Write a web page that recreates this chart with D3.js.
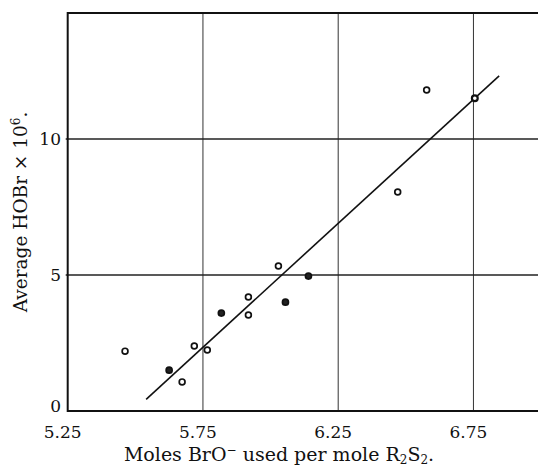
<!DOCTYPE html>
<html>
<head>
<meta charset="utf-8">
<script src="https://cdn.jsdelivr.net/npm/d3@7"></script>
<style>
  body { margin: 0; background: #fff; }
  svg { display: block; }
  text { font-family: "DejaVu Serif", serif; fill: #111; }
</style>
</head>
<body>
<div id="graph"></div>
<script>
// moles BrO- used per mole R2S2 (x) against average HOBr x 10^6 (y)
var molesBrO = [5.462, 5.625, 5.673, 5.718, 5.766, 5.818, 5.918, 5.918, 6.029, 6.055, 6.14, 6.47, 6.577, 6.755];
var avgHOBr  = [2.2, 1.5, 1.07, 2.39, 2.24, 3.6, 4.19, 3.53, 5.33, 4.0, 4.96, 8.05, 11.8, 11.5];
var solid    = [0, 1, 0, 0, 0, 1, 0, 0, 0, 1, 1, 0, 0, 0];

// ends of the drawn straight line
var fitX = [5.54, 6.845];
var fitY = [0.43, 12.32];

var xTicks = [5.25, 5.75, 6.25, 6.75];
var yTicks = [0, 5, 10];

window.onload = start;

function start() {
    var width = 538;
    var height = 467;

    var svg = d3.select("#graph")
        .append("svg")
        .attr("width", width)
        .attr("height", height);

    // plot box (right side is cut off by the picture edge)
    var left = 67.7, top = 13, bottom = 411;

    var x = d3.scaleLinear()
        .domain([5.25, 6.25])
        .range([left, left + 270.5]);

    var y = d3.scaleLinear()
        .domain([0, 10])
        .range([bottom, bottom - 272]);

    var g = svg.append("g");

    // grid lines
    g.selectAll("line.vgrid")
        .data(xTicks.slice(1))
        .enter()
        .append("line")
        .attr("x1", d => x(d))
        .attr("x2", d => x(d))
        .attr("y1", top)
        .attr("y2", bottom)
        .attr("stroke", "#333")
        .attr("stroke-width", 1);

    g.selectAll("line.hgrid")
        .data(yTicks.slice(1))
        .enter()
        .append("line")
        .attr("x1", left - 2)
        .attr("x2", width)
        .attr("y1", d => y(d))
        .attr("y2", d => y(d))
        .attr("stroke", "#222")
        .attr("stroke-width", 1.3);

    // frame
    g.append("line").attr("x1", left).attr("x2", width).attr("y1", top).attr("y2", top)
        .attr("stroke", "#111").attr("stroke-width", 2);
    g.append("line").attr("x1", left).attr("x2", width).attr("y1", bottom).attr("y2", bottom)
        .attr("stroke", "#111").attr("stroke-width", 2);
    g.append("line").attr("x1", left).attr("x2", left).attr("y1", top - 1).attr("y2", bottom + 1)
        .attr("stroke", "#111").attr("stroke-width", 2);

    // tick labels
    g.selectAll("text.xt")
        .data(xTicks)
        .enter()
        .append("text")
        .attr("x", d => x(d) - 5)
        .attr("y", 438)
        .attr("text-anchor", "middle")
        .attr("font-size", 17)
        .text(d => d3.format(".2f")(d));

    g.selectAll("text.yt")
        .data(yTicks)
        .enter()
        .append("text")
        .attr("x", 61)
        .attr("y", d => y(d) + (d === 0 ? 1 : 6))
        .attr("text-anchor", "end")
        .attr("font-size", 17)
        .text(d => d);

    // axis titles
    var xt = svg.append("text")
        .attr("x", 279)
        .attr("y", 461)
        .attr("text-anchor", "middle")
        .attr("font-size", 19);
    xt.append("tspan").text("Moles BrO");
    xt.append("tspan").attr("dy", -7).attr("font-size", 12).text("\u2212");
    xt.append("tspan").attr("dy", 7).text(" used per mole R");
    xt.append("tspan").attr("dy", 3).attr("font-size", 12).text("2");
    xt.append("tspan").attr("dy", -3).text("S");
    xt.append("tspan").attr("dy", 3).attr("font-size", 12).text("2");
    xt.append("tspan").attr("dy", -3).text(".");

    var yt = svg.append("text")
        .attr("transform", "translate(27,212) rotate(-90)")
        .attr("text-anchor", "middle")
        .attr("font-size", 18.5);
    yt.append("tspan").text("Average HOBr \u00d7 10");
    yt.append("tspan").attr("dy", -7).attr("font-size", 12).text("6");
    yt.append("tspan").attr("dy", 7).text(".");

    // straight line
    var line = d3.line()
        .x(d => x(d[0]))
        .y(d => y(d[1]));
    g.append("path")
        .attr("d", line(d3.zip(fitX, fitY)))
        .attr("fill", "none")
        .attr("stroke", "#111")
        .attr("stroke-width", 1.6);

    // points
    g.selectAll("circle")
        .data(d3.range(molesBrO.length))
        .enter()
        .append("circle")
        .attr("cx", i => x(molesBrO[i]))
        .attr("cy", i => y(avgHOBr[i]))
        .attr("r", i => solid[i] ? 3 : 2.9)
        .attr("fill", i => solid[i] ? "#222" : "#fff")
        .attr("stroke", "#111")
        .attr("stroke-width", i => i === 13 ? 2.2 : 1.7);
}
</script>
</body>
</html>
